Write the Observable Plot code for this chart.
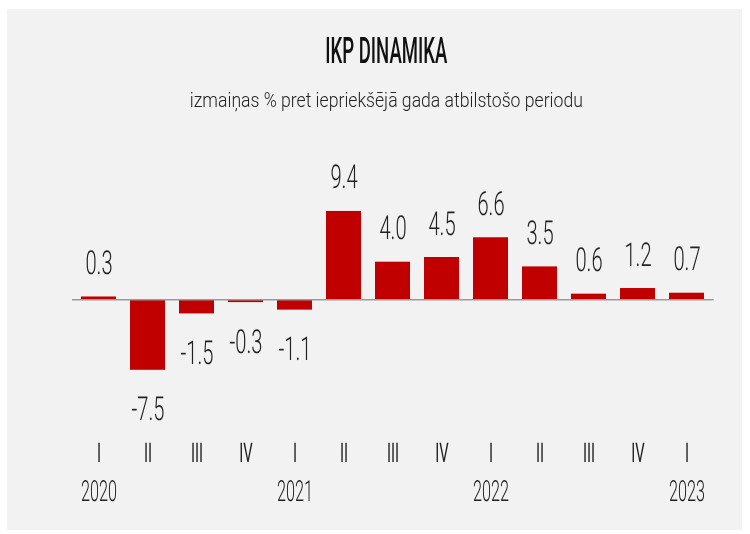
<!DOCTYPE html>
<html>
<head>
<meta charset="utf-8">
<script src="https://cdn.jsdelivr.net/npm/d3@7"></script>
<script src="https://cdn.jsdelivr.net/npm/@observablehq/plot@0.6"></script>
<style>
  html, body { margin: 0; padding: 0; background: #ffffff; }
  body { width: 750px; height: 534px; position: relative; overflow: hidden; }
  #panel { position: absolute; left: 7px; top: 9px; width: 735px; height: 521px; background: #f2f2f2; }
  .title, .subtitle { position: absolute; left: 0; width: 772px; text-align: center; font-family: Roboto, "DejaVu Sans Condensed", sans-serif; white-space: nowrap; will-change: transform; }
  .title span, .subtitle span { display: inline-block; transform-origin: center; }
  .title { top: 33px; font-size: 36px; line-height: 36px; font-weight: 500; color: #111; }
  .subtitle { top: 90px; font-size: 21px; line-height: 21px; font-weight: 300; color: #222; }
  #chart { position: absolute; left: 0; top: 130px; will-change: transform; }
  #chart text { text-rendering: geometricPrecision; }
</style>
</head>
<body>
<div id="panel"></div>
<div class="title"><span id="t">IKP DINAMIKA</span></div>
<div class="subtitle"><span id="s">izmaiņas % pret iepriekšējā gada atbilstošo periodu</span></div>
<div id="chart"></div>
<script>
const years    = ["2020","2020","2020","2020","2021","2021","2021","2021","2022","2022","2022","2022","2023"];
const quarters = ["I","II","III","IV","I","II","III","IV","I","II","III","IV","I"];
const values   = [0.3, -7.5, -1.5, -0.3, -1.1, 9.4, 4.0, 4.5, 6.6, 3.5, 0.6, 1.2, 0.7];

const data = values.map((v, i) => ({ key: years[i] + " " + quarters[i], year: years[i], q: quarters[i], v }));
const keys = data.map(d => d.key);

const F = 'Roboto, "DejaVu Sans Condensed", sans-serif';

const chart = Plot.plot({
  width: 750,
  height: 400,
  marginLeft: 72,
  marginRight: 36.3,
  marginTop: 0,
  marginBottom: 100,
  style: { background: "transparent", fontFamily: F, color: "#222", fontWeight: 300 },
  x: { domain: keys, range: [72, 713.7], paddingInner: 0.29, paddingOuter: 0.145, align: 0.5, axis: null },
  y: { domain: [-10, 12], range: [263.3, 56.5], axis: null },
  marks: [
    Plot.barY(data, { x: "key", y: "v", fill: "#c00000" }),
    Plot.ruleY([0], { stroke: "#9a9a9a", strokeWidth: 1.5 }),
    Plot.text(data.filter(d => d.v >= 0), { x: "key", y: "v", text: d => d.v.toFixed(1), lineAnchor: "bottom", dy: -23, fontSize: 33, fill: "#222" }),
    Plot.text(data.filter(d => d.v < 0), { x: "key", y: "v", text: d => d.v.toFixed(1), lineAnchor: "bottom", dy: 50, fontSize: 33, fill: "#222" }),
    // quarter tick labels
    Plot.text(data, { x: "key", text: "q", frameAnchor: "bottom", lineAnchor: "bottom", dy: 31, fontSize: 27, fontWeight: 400, fill: "#222" }),
    // year labels under the first quarter
    Plot.text(data.filter(d => d.q === "I"), { x: "key", text: "year", frameAnchor: "bottom", lineAnchor: "bottom", dy: 70.7, fontSize: 29, fill: "#222" })
  ]
});
document.getElementById("chart").appendChild(chart);

// condense text horizontally to imitate the narrow typeface
const scaleByFont = { 33: 0.61, 27: 0.55, 29: 0.56 };
chart.querySelectorAll("text").forEach(t => {
  const fs = Math.round(parseFloat(getComputedStyle(t).fontSize));
  const s = scaleByFont[fs];
  if (!s) return;
  const x = t.getAttribute("x"), y = t.getAttribute("y");
  let tr = t.getAttribute("transform") || "";
  if (x != null || y != null) {
    tr += ` translate(${x || 0},${y || 0})`;
    t.removeAttribute("x");
    t.removeAttribute("y");
  }
  t.setAttribute("transform", tr + ` scale(${s},1)`);
});

function fitHeadings() {
  [["t", 122], ["s", 393]].forEach(([id, w]) => {
    const el = document.getElementById(id);
    el.style.transform = "none";
    const cur = el.getBoundingClientRect().width;
    if (cur > 0) el.style.transform = `scaleX(${w / cur})`;
  });
}
fitHeadings();
if (document.fonts && document.fonts.ready) document.fonts.ready.then(fitHeadings);
</script>
</body>
</html>
